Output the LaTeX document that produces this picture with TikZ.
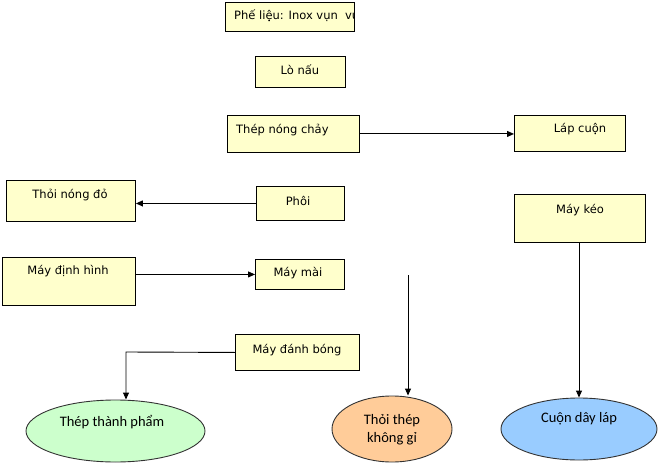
\documentclass[tikz,border=0pt]{standalone}
\usepackage{fontspec}
\setmainfont{DejaVu Sans}
\newfontfamily\ellfont{Carlito}
\usetikzlibrary{arrows.meta,shapes.geometric}
\definecolor{boxfill}{HTML}{FFFFCC}
\definecolor{grfill}{HTML}{CCFFCC}
\definecolor{orfill}{HTML}{FFCC99}
\definecolor{blfill}{HTML}{99CCFF}
\tikzset{
  boxnode/.style={draw=black, line width=0.9pt, fill=boxfill, anchor=north west, inner sep=0pt},
  txt/.style={font=\fontsize{11.5}{13}\selectfont, inner sep=0pt},
  ell/.style={ellipse, draw=black!80, line width=0.9pt, inner sep=0pt},
  etxt/.style={font=\ellfont\fontsize{14.5}{18}\selectfont, inner sep=0pt, align=center},
  arr/.style={line width=0.9pt, -{Triangle[length=7pt,width=6pt]}},
}
\newcommand{\bx}[5]{\node[boxnode, minimum width=#4pt, minimum height=#5pt] (#1) at (#2,#3) {};}
\begin{document}
\begin{tikzpicture}[x=1pt,y=-1pt]
\useasboundingbox (0,0) rectangle (658,465);
% boxes
\bx{b1}{225}{2}{129}{29}
\begin{scope}
\clip ([xshift=-0.5pt,yshift=-0.5pt]b1.north west) rectangle ([xshift=-1pt,yshift=1pt]b1.south east);
\node[txt, anchor=west] (t1) at (234,16) {Phế liệu: Inox vụn\ \ vụn};
\end{scope}
\bx{b2}{255}{56}{90}{31}
\node[txt] (t2) at (300,70) {Lò nấu};
\bx{b3}{227}{115}{132}{37}
\node[txt, anchor=west] (t3) at (236,130) {Thép nóng chảy};
\bx{b4}{514}{115}{111}{36}
\node[txt] (t4) at (580,129) {Láp cuộn};
\bx{b5}{6}{180}{129}{41}
\node[txt] (t5) at (70,195) {Thỏi nóng đỏ};
\bx{b6}{256}{186}{88}{34}
\node[txt] (t6) at (298,201) {Phôi};
\bx{b7}{514}{194}{131}{48}
\node[txt] (t7) at (580,210) {Máy kéo};
\bx{b8}{2}{257}{133}{48}
\node[txt] (t8) at (68,271) {Máy định hình};
\bx{b9}{255}{259}{89}{30}
\node[txt] (t9) at (298,273) {Máy mài};
\bx{b10}{235}{334}{124}{36}
\node[txt] (t10) at (297,350) {Máy đánh bóng};
% ellipses
\node[ell, fill=grfill, minimum width=179pt, minimum height=62pt] (e1) at (115.5,431) {};
\node[etxt] (et1) at (112,422) {Thép thành phẩm};
\node[ell, fill=orfill, minimum width=120pt, minimum height=66pt] (e2) at (392,429) {};
\node[etxt] (et2) at (392,430) {Thỏi thép\\không gỉ};
\node[ell, fill=blfill, minimum width=156pt, minimum height=62pt] (e3) at (579,429) {};
\node[etxt] (et3) at (579,419) {Cuộn dây láp};
% connectors
\draw[arr] (b3.east) -- (b4.west |- b3.east);
\draw[arr] (b6.west) -- (b5.east |- b6.west);
\draw[arr] (b8.east |- b9.west) -- (b9.west);
\coordinate (p1) at (126,352);
\draw[arr] (b10.west) -- (p1) -- (e1.north -| p1);
\coordinate (p2) at (408,275);
\draw[arr] (p2) -- (p2 |- e2.north);
\draw[arr] (b7.south -| e3.north) -- (e3.north);
\end{tikzpicture}
\end{document}
